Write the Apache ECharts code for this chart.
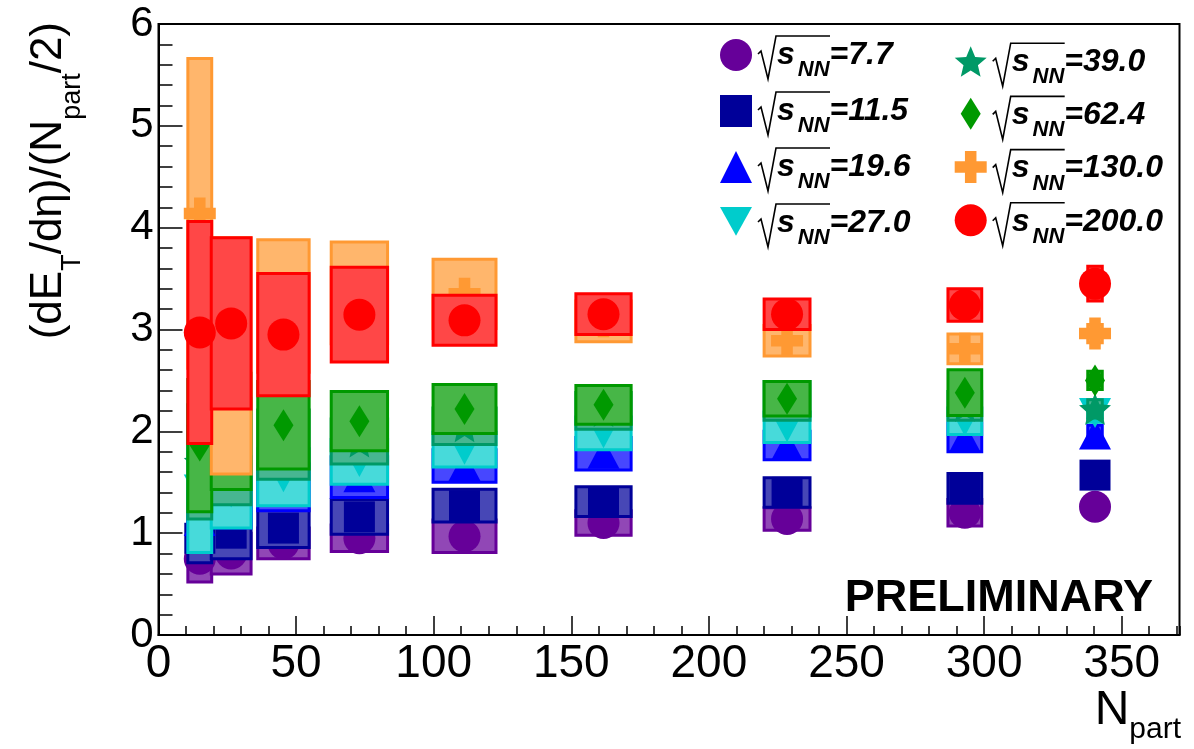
<!DOCTYPE html>
<html><head><meta charset="utf-8">
<script src="https://cdn.jsdelivr.net/npm/echarts@6/dist/echarts.min.js"></script>
<style>html,body{margin:0;padding:0;background:#fff}#c{width:1194px;height:749px}</style>
</head><body><div id="c"></div>
<script>
// ---------------- data ----------------
const energies = ['7.7', '11.5', '19.6', '27.0', '39.0', '62.4', '130.0', '200.0'];
const npart = [15, 26.4, 45.4, 73, 111.2, 161.7, 228.4, 293, 340.3];
const npartErr = [4.7, 7.6, 9.7, 10.6, 11.8, 10.4, 8.7, 6.5, 3];

const val_7_7   = [0.75, 0.80, 0.90, 0.95, 0.97, 1.10, 1.14, 1.20, 1.26];
const sys_7_7   = [0.24, 0.21, 0.16, 0.14, 0.17, 0.13, 0.12, 0.14, 0.10];
const val_11_5  = [0.95, 1.00, 1.05, 1.16, 1.27, 1.31, 1.40, 1.44, 1.57];
const sys_11_5  = [0.25, 0.26, 0.20, 0.18, 0.17, 0.155, 0.155, 0.155, 0.10];
const val_19_6  = [1.12, 1.30, 1.45, 1.55, 1.66, 1.78, 1.86, 1.94, 1.97];
const sys_19_6  = [0.30, 0.26, 0.24, 0.21, 0.17, 0.17, 0.15, 0.15, 0.10];
const val_27_0  = [1.43, 1.40, 1.55, 1.70, 1.82, 1.98, 2.04, 2.10, 2.18];
const sys_27_0  = [0.63, 0.36, 0.29, 0.23, 0.18, 0.17, 0.16, 0.14, 0.10];
const val_39_0  = [1.70, 1.80, 1.87, 1.90, 2.05, 2.20, 2.30, 2.25, 2.22];
const sys_39_0  = [0.57, 0.53, 0.35, 0.23, 0.19, 0.19, 0.20, 0.15, 0.10];
const val_62_4  = [1.86, 2.00, 2.06, 2.10, 2.22, 2.26, 2.32, 2.38, 2.50];
const sys_62_4  = [0.66, 0.58, 0.44, 0.30, 0.25, 0.20, 0.18, 0.235, 0.10];
const val_130_0 = [4.14, 2.74, 3.23, 3.36, 3.35, 3.08, 2.89, 2.81, 2.96];
const sys_130_0 = [1.53, 1.17, 0.66, 0.51, 0.35, 0.21, 0.16, 0.155, 0.10];
const val_200_0 = [2.97, 3.06, 2.95, 3.145, 3.09, 3.15, 3.15, 3.24, 3.45];
const sys_200_0 = [1.10, 0.85, 0.61, 0.475, 0.255, 0.21, 0.16, 0.17, 0.18];

const values = [val_7_7, val_11_5, val_19_6, val_27_0, val_39_0, val_62_4, val_130_0, val_200_0];
const systs  = [sys_7_7, sys_11_5, sys_19_6, sys_27_0, sys_39_0, sys_62_4, sys_130_0, sys_200_0];

const yTicks = [0, 1, 2, 3, 4, 5, 6];
const xTicks = [0, 50, 100, 150, 200, 250, 300, 350];

// ---------------- styles ----------------
const colors = ['#660099', '#000099', '#0000ff', '#00cccc', '#009966', '#009900', '#ff9933', '#ff0000'];
function tint(hex, t) {
  const n = parseInt(hex.slice(1), 16);
  const ch = [(n >> 16) & 255, (n >> 8) & 255, n & 255].map(c => Math.round(c + (255 - c) * t));
  return 'rgb(' + ch.join(',') + ')';
}
function starPath() {
  let d = 'path://';
  for (let i = 0; i < 10; i++) {
    const r = i % 2 ? 0.45 : 1;
    const a = -Math.PI / 2 + i * Math.PI / 5;
    d += (i ? 'L' : 'M') + (1 + r * Math.cos(a)).toFixed(3) + ',' + (1 + r * Math.sin(a)).toFixed(3);
  }
  return d + 'Z';
}
const crossPath = 'path://M3.2,0H6.8V3.2H10V6.8H6.8V10H3.2V6.8H0V3.2H3.2Z';
const diamondPath = 'path://M5,0L10,8L5,16L0,8Z';
const invTriPath = 'path://M0,0L10,0L5,9Z';
const symbols = ['circle', 'rect', 'triangle', invTriPath, starPath(), diamondPath, crossPath, 'circle'];
const symbolSizes = [32, 31, [32, 30], [32, 30], 32, [20, 32], 32, 32];

const FONT = 'Liberation Sans';
const series = [];
energies.forEach((e, k) => {
  const fillC = tint(colors[k], 0.28);
  series.push({
    type: 'custom', name: e + ' syst', silent: true, z: 2 + 2 * k,
    xAxisIndex: 0, yAxisIndex: 0,
    data: npart.map((x, i) => [x, values[k][i], systs[k][i], npartErr[i]]),
    renderItem: function (params, api) {
      const x = api.value(0), v = api.value(1), s = api.value(2), hw = api.value(3);
      const p1 = api.coord([x - hw, v + s]);
      const p2 = api.coord([x + hw, v - s]);
      return {
        type: 'rect',
        shape: { x: p1[0] + 1, y: p1[1] + 1, width: p2[0] - p1[0] - 2, height: p2[1] - p1[1] - 2 },
        style: { fill: fillC, stroke: colors[k], lineWidth: 3 }
      };
    }
  });
  series.push({
    type: 'scatter', name: e, z: 3 + 2 * k,
    xAxisIndex: 0, yAxisIndex: 0,
    symbol: symbols[k], symbolSize: symbolSizes[k],
    itemStyle: { color: colors[k], opacity: 1 },
    emphasis: { disabled: true },
    data: npart.map((x, i) => [x, values[k][i]])
  });
});

// legend layout: icons by the legend component, labels as rich text
const legendCols = [
  { left: 720, c0: 55, pitch: 56, names: energies.slice(0, 4), icons: symbols.slice(0, 4) },
  { left: 954.7, c0: 62.2, pitch: 53.2, names: energies.slice(4), icons: symbols.slice(4) }
];
const legends = legendCols.map(col => ({
  orient: 'vertical', left: col.left, top: col.c0 - 16, padding: 0, z: 30,
  itemWidth: 32, itemHeight: 32, itemGap: col.pitch - 32, selectedMode: false,
  data: col.names.map((n, i) => ({ name: n, icon: col.icons[i] })),
  formatter: () => ' ',
  textStyle: { fontSize: 8 }
}));

const legRich = {
  s: { fontSize: 32, fontWeight: 'bold', fontStyle: 'italic', fontFamily: FONT, color: '#000', lineHeight: 52, padding: [0, 3, 0, 0] },
  n: { fontSize: 22, fontWeight: 'bold', fontStyle: 'italic', fontFamily: FONT, color: '#000', verticalAlign: 'bottom', lineHeight: 22 },
  v: { fontSize: 32, fontWeight: 'bold', fontStyle: 'italic', fontFamily: FONT, color: '#000', lineHeight: 52 }
};
const graphics = [];
legendCols.forEach(col => {
  col.names.forEach((n, r) => {
    const cy = col.c0 + r * col.pitch;
    const base = cy + 10;
    const tx = col.left + 37;
    graphics.push({
      type: 'text', x: tx + 20, y: cy, silent: true, z: 30,
      style: { text: '{s|s}{n|NN}{v|=' + n + '}', align: 'left', verticalAlign: 'middle', rich: legRich }
    });
    graphics.push({
      type: 'polyline', silent: true, z: 30,
      shape: { points: [[tx + 1, base - 11], [tx + 4, base - 14], [tx + 11, base + 14], [tx + 19, base - 29], [tx + 73, base - 29]] },
      style: { stroke: '#000', lineWidth: 1.6, fill: null }
    });
  });
});

// axis titles + preliminary
graphics.push({
  type: 'text', rotation: Math.PI / 2, x: 86, y: 22, silent: true,
  style: {
    text: '{m|(dE}{b|T}{m|/dη)/(N}{b|part}{m|/2)}',
    align: 'right', verticalAlign: 'bottom',
    rich: {
      m: { fontSize: 44, fontFamily: FONT, color: '#000', lineHeight: 74 },
      b: { fontSize: 27, fontFamily: FONT, color: '#000', verticalAlign: 'bottom', lineHeight: 27 }
    }
  }
});
graphics.push({
  type: 'text', x: 1181, y: 677, silent: true,
  style: {
    text: '{m|N}{b|part}', align: 'right', verticalAlign: 'top',
    rich: {
      m: { fontSize: 48, fontFamily: FONT, color: '#000', lineHeight: 68 },
      b: { fontSize: 30, fontFamily: FONT, color: '#000', verticalAlign: 'bottom', lineHeight: 30 }
    }
  }
});
graphics.push({
  type: 'text', x: 1153, y: 621, silent: true, z: 30,
  style: { text: 'PRELIMINARY', align: 'right', verticalAlign: 'bottom', fontSize: 45, fontWeight: 'bold', fontFamily: FONT, fill: '#000' }
});

const chart = echarts.init(document.getElementById('c'), null, { renderer: 'canvas' });
chart.setOption({
  animation: false,
  backgroundColor: '#fff',
  grid: { left: 158.5, top: 24, width: 1021, height: 611, show: true, borderColor: '#000', borderWidth: 2, backgroundColor: 'transparent' },
  xAxis: [
    { type: 'value', min: 0, max: 371, interval: 50, position: 'bottom', z: 40,
      axisLine: { show: true, lineStyle: { color: '#000', width: 2 } },
      axisTick: { show: true, inside: true, length: 19, lineStyle: { color: '#000', width: 1.5 } },
      axisLabel: { show: true, showMaxLabel: false, margin: 6, fontSize: 46, fontFamily: FONT, color: '#000',
        formatter: v => xTicks.includes(v) ? String(v) : '' },
      splitLine: { show: false } },
    { type: 'value', min: 0, max: 371, interval: 10, position: 'bottom', z: 40,
      axisLine: { show: false },
      axisTick: { show: true, inside: true, length: 9, lineStyle: { color: '#000', width: 1.5 } },
      axisLabel: { show: false }, splitLine: { show: false } }
  ],
  yAxis: [
    { type: 'value', min: 0, max: 6, interval: 1, position: 'left', z: 40,
      axisLine: { show: true, lineStyle: { color: '#000', width: 2 } },
      axisTick: { show: true, inside: true, length: 24, lineStyle: { color: '#000', width: 1.5 } },
      axisLabel: { show: true, margin: 5, fontSize: 42, fontFamily: FONT, color: '#000',
        formatter: v => yTicks.includes(v) ? String(v) : '' },
      splitLine: { show: false } },
    { type: 'value', min: 0, max: 6, interval: 0.2, position: 'left', z: 40,
      axisLine: { show: false },
      axisTick: { show: true, inside: true, length: 14, lineStyle: { color: '#000', width: 1.5 } },
      axisLabel: { show: false }, splitLine: { show: false } }
  ],
  legend: legends,
  series: series,
  graphic: graphics
});
</script></body></html>
